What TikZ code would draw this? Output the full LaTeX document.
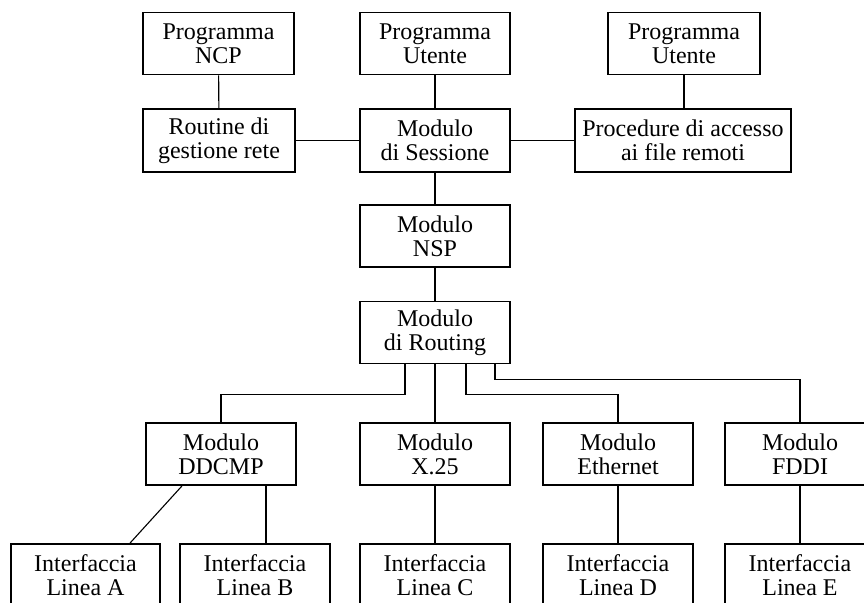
\documentclass[tikz,border=0pt]{standalone}
\usepackage{fontspec}
\setmainfont{Liberation Serif}

\begin{document}
\begin{tikzpicture}[x=1pt,y=-1pt]
\tikzset{box/.style = {shape=rectangle,draw,line width=1.8pt,inner sep=0pt,
  minimum width=150pt,minimum height=62pt,align=center,
  font=\fontsize{24}{24}\selectfont}}
\tikzset{edge/.style = {line width=1.1pt}}
\clip (0,0) rectangle (864,602);
% top rows
\node[box,minimum width=151pt] (ncp) at (218.5,43.5) {Programma\\NCP};
\node[box] (ute1) at (435,43.5) {Programma\\Utente};
\node[box,minimum width=152pt] (ute2) at (684,43.5) {Programma\\Utente};
\node[box,minimum width=152pt,minimum height=63pt] (gest) at (219,140.5) {Routine di\\gestione rete};
\node[box,minimum height=63pt] (sess) at (435,140.5) {Modulo\\di Sessione};
\node[box,minimum width=216pt,minimum height=63pt] (proc) at (683,140.5) {Procedure di accesso\\ai file remoti};
\node[box] (nsp) at (435,236) {Modulo\\NSP};
\node[box] (rtg) at (435,332.5) {Modulo\\di Routing};
% modules
\node[box] (ddcmp) at (221,454) {Modulo\\DDCMP};
\node[box] (x25) at (435,454) {Modulo\\X.25};
\node[box] (eth) at (618,454) {Modulo\\Ethernet};
\node[box] (fddi) at (800,454) {Modulo\\FDDI};
% line interfaces
\node[box,minimum width=149pt] (la) at (85.5,575) {Interfaccia\\Linea A};
\node[box] (lb) at (255,575) {Interfaccia\\Linea B};
\node[box] (lc) at (435,575) {Interfaccia\\Linea C};
\node[box] (ld) at (618,575) {Interfaccia\\Linea D};
\node[box] (le) at (800,575) {Interfaccia\\Linea E};
\draw[edge] (ncp) to (gest);
\draw[edge] (ute1) to (sess);
\draw[edge] (ute2.south) to (ute2.south |- proc.north);
\draw[edge] (gest) to (sess);
\draw[edge] (sess) to (proc);
\draw[edge] (sess) to (nsp);
\draw[edge] (nsp) to (rtg);
\draw[edge] ([xshift=-30pt]rtg.south) -- ++(0,30) -| (ddcmp.north);
\draw[edge] (rtg) to (x25);
\draw[edge] ([xshift=31pt]rtg.south) -- ++(0,30) -| (eth.north);
\draw[edge] ([xshift=60pt]rtg.south) -- ++(0,15) -| (fddi.north);
\draw[edge] ([xshift=-39pt]ddcmp.south) to ([xshift=44.5pt]la.north);
\draw[edge] ([xshift=45pt]ddcmp.south) to ([xshift=11pt]lb.north);
\draw[edge] (x25) to (lc);
\draw[edge] (eth) to (ld);
\draw[edge] (fddi) to (le);
\end{tikzpicture}
\end{document}
